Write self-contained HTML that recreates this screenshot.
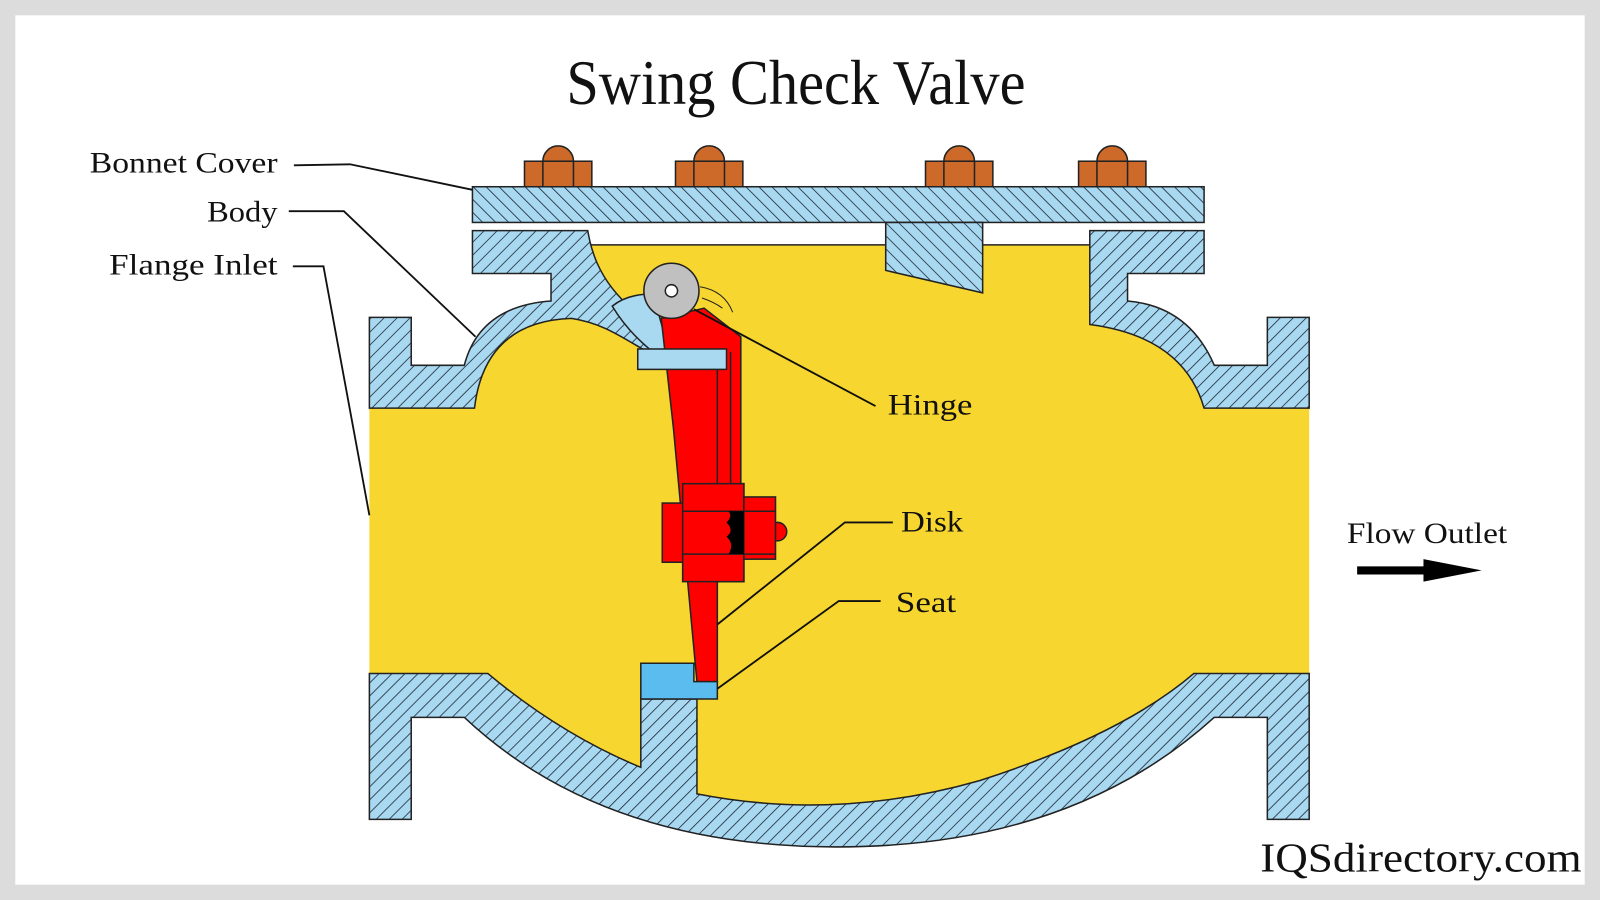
<!DOCTYPE html>
<html><head><meta charset="utf-8"><style>html,body{margin:0;padding:0;background:#dcdcdc}svg{display:block}</style></head>
<body>
<svg width="1600" height="900" viewBox="0 0 1568 882" xmlns="http://www.w3.org/2000/svg">
<defs>
<pattern id="h1" patternUnits="userSpaceOnUse" width="9" height="9" patternTransform="rotate(45)">
<rect width="9" height="9" fill="#a9d8f1"/><line x1="0" y1="0" x2="0" y2="9" stroke="#1d2b38" stroke-width="1.6"/></pattern>
<pattern id="h2" patternUnits="userSpaceOnUse" width="9" height="9" patternTransform="rotate(-45)">
<rect width="9" height="9" fill="#a9d8f1"/><line x1="0" y1="0" x2="0" y2="9" stroke="#1d2b38" stroke-width="1.6"/></pattern>
</defs>
<rect x="0" y="0" width="1568" height="882" fill="#dcdcdc"/>
<rect x="15" y="15" width="1538" height="852" fill="#fff"/>
<text x="780" y="102" text-anchor="middle" font-family="Liberation Serif, serif" font-size="62" textLength="450" lengthAdjust="spacingAndGlyphs" fill="#111">Swing Check Valve</text>

<g stroke="#222" stroke-width="1.5">
<path d="M362 400 L465 400 Q475 315 560 312 Q585 315 610 320 L578 240 L1068 240 L1068 318 Q1160 330 1180 400 L1283 400 L1283 660 L1180 660 Q1000 800 820 800 Q640 800 460 660 L362 660 Z" fill="#f7d62f" stroke="none"/>
<line x1="578" y1="240" x2="868" y2="240"/><line x1="963" y1="240" x2="1068" y2="240"/>
<rect x="463" y="183" width="717" height="35" fill="url(#h2)"/>
<path d="M868 218 L963 218 L963 287 L868 265 Z" fill="url(#h2)"/>
<g fill="#cd6a2a">
<path d="M532 158 A15 15 0 0 1 562 158 Z"/><rect x="514" y="158" width="66" height="25"/><line x1="532" y1="158" x2="532" y2="183"/><line x1="562" y1="158" x2="562" y2="183"/>
<path d="M680 158 A15 15 0 0 1 710 158 Z"/><rect x="662" y="158" width="66" height="25"/><line x1="680" y1="158" x2="680" y2="183"/><line x1="710" y1="158" x2="710" y2="183"/>
<path d="M925 158 A15 15 0 0 1 955 158 Z"/><rect x="907" y="158" width="66" height="25"/><line x1="925" y1="158" x2="925" y2="183"/><line x1="955" y1="158" x2="955" y2="183"/>
<path d="M1075 158 A15 15 0 0 1 1105 158 Z"/><rect x="1057" y="158" width="66" height="25"/><line x1="1075" y1="158" x2="1075" y2="183"/><line x1="1105" y1="158" x2="1105" y2="183"/>
</g>
<path d="M362 311 L403 311 L403 358 L455 358 Q470 300 540 295 L540 268 L463 268 L463 226 L576 226 C585 280 615 300 660 338 L660 358 C620 340 600 318 560 312 Q475 315 465 400 L362 400 Z" fill="url(#h1)"/>
<path d="M1068 226 L1180 226 L1180 268 L1105 268 L1105 295 Q1165 300 1190 358 L1242 358 L1242 311 L1283 311 L1283 400 L1180 400 Q1160 330 1068 318 Z" fill="url(#h1)"/>
<path d="M362 660 L478 660 Q550 720 628 752 L628 685 L683 685 L683 778 Q820 805 960 765 Q1100 720 1170 660 L1283 660 L1283 803 L1242 803 L1242 703 L1190 703 Q1050 830 820 830 Q590 830 455 703 L403 703 L403 803 L362 803 Z" fill="url(#h1)"/>
<path d="M600 300 Q615 288 640 288 L655 342 L640 345 Q615 325 600 300 Z" fill="#a9d8f1"/>
<path d="M648 312 L690 302 L726 330 L726 474 L729 474 L729 570 L703 570 L703 668 L683 668 L660 420 Z" fill="#f00"/>
<line x1="703" y1="345" x2="703" y2="474"/><line x1="716" y1="345" x2="716" y2="474"/>
<rect x="649" y="493" width="24" height="58" fill="#f00"/>
<rect x="669" y="474" width="60" height="96" fill="#f00"/>
<circle cx="762" cy="521" r="9" fill="#f00"/>
<rect x="729" y="487" width="31" height="61" fill="#f00"/>
<line x1="669" y1="501" x2="760" y2="501"/><line x1="669" y1="543" x2="760" y2="543"/>
<path d="M714 501 L729 501 L729 543 L714 543 Q720 533 712 526 Q720 520 712 512 Q718 506 714 501 Z" fill="#000" stroke="none"/>
<rect x="625" y="342" width="87" height="20" fill="#a9d8f1"/>
<circle cx="658" cy="285" r="27" fill="#c0c0c0"/>
<circle cx="658" cy="285" r="6" fill="#fff"/>
<path d="M686 281 Q710 285 718 306" fill="none" stroke-width="1"/>
<path d="M688 292 Q700 296 708 302" fill="none" stroke-width="1"/>
<path d="M628 650 L680 650 L680 668 L703 668 L703 685 L628 685 Z" fill="#5bbcf0"/>
</g>

<g stroke="#111" stroke-width="1.8" fill="none">
<polyline points="288,162 343,161 463,186"/>
<polyline points="283,207 337,207 466,330"/>
<polyline points="287,261 317,261 362,505"/>
<polyline points="858,398 680,303"/>
<polyline points="875,512 828,512 703,612"/>
<polyline points="863,589 822,589 703,675"/>
</g>
<g font-family="Liberation Serif, serif" font-size="29" fill="#111">
<text x="88" y="169" textLength="184" lengthAdjust="spacingAndGlyphs">Bonnet Cover</text>
<text x="203" y="217" textLength="69" lengthAdjust="spacingAndGlyphs">Body</text>
<text x="107" y="269" textLength="165" lengthAdjust="spacingAndGlyphs">Flange Inlet</text>
<text x="870" y="406" textLength="83" lengthAdjust="spacingAndGlyphs">Hinge</text>
<text x="883" y="521" textLength="61" lengthAdjust="spacingAndGlyphs">Disk</text>
<text x="878" y="600" textLength="59" lengthAdjust="spacingAndGlyphs">Seat</text>
<text x="1320" y="532" textLength="157" lengthAdjust="spacingAndGlyphs">Flow Outlet</text>
</g>
<line x1="1330" y1="559" x2="1400" y2="559" stroke="#000" stroke-width="8"/>
<path d="M1395 548 L1452 559 L1395 570 Z" fill="#000"/>
<text x="1235" y="854" font-family="Liberation Serif, serif" font-size="40" textLength="315" lengthAdjust="spacingAndGlyphs" fill="#111">IQSdirectory.com</text>
</svg>
</body></html>
